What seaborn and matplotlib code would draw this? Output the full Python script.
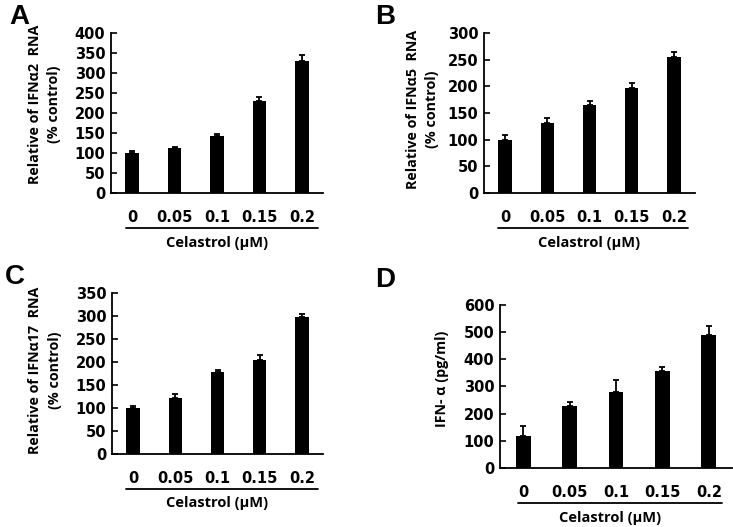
import matplotlib
matplotlib.use("Agg")
import matplotlib.pyplot as plt
import seaborn as sns
import numpy as np
import pandas as pd

sns.set_theme(style="white")
plt.rcParams['font.family'] = ['Open Sans', 'DejaVu Sans']

doses = ["0", "0.05", "0.1", "0.15", "0.2"]

ifna2_vals = [99, 112, 142, 231, 330]
ifna2_err = [6, 4, 5, 10, 14]

ifna5_vals = [99, 131, 165, 196, 255]
ifna5_err = [9, 9, 7, 11, 9]

ifna17_vals = [99, 121, 177, 203, 298]
ifna17_err = [5, 9, 5, 11, 5]

ifn_pg_vals = [119, 229, 280, 358, 488]
ifn_pg_err = [34, 13, 44, 13, 34]

panels = [
    dict(letter="A", vals=ifna2_vals, err=ifna2_err, ymax=400, step=50,
         ylabel="Relative of IFNα2  RNA\n(% control)",
         rect=(111, 33, 323, 193), lab=(-0.314, 0.555),
         line=(0.071, 0.976, -0.219), xl=(0.5, -0.31), lpos=(19, 17)),
    dict(letter="B", vals=ifna5_vals, err=ifna5_err, ymax=300, step=50,
         ylabel="Relative of IFNα5  RNA\n(% control)",
         rect=(484, 33, 695, 193), lab=(-0.291, 0.525),
         line=(0.065, 0.967, -0.219), xl=(0.498, -0.31), lpos=(385, 17)),
    dict(letter="C", vals=ifna17_vals, err=ifna17_err, ymax=350, step=50,
         ylabel="Relative of IFNα17  RNA\n(% control)",
         rect=(112, 292.7, 323, 454), lab=(-0.318, 0.52),
         line=(0.065, 0.976, -0.217), xl=(0.5, -0.304), lpos=(15, 277)),
    dict(letter="D", vals=ifn_pg_vals, err=ifn_pg_err, ymax=600, step=100,
         ylabel="IFN- α (pg/ml)",
         rect=(500, 304.7, 732, 468), lab=(-0.251, 0.545),
         line=(0.078, 0.956, -0.216), xl=(0.474, -0.306), lpos=(385, 280)),
]

W, H = 733, 527
fig = plt.figure(figsize=(W / 100, H / 100), dpi=100)

label_family = ['Open Sans', 'DejaVu Sans']

for p in panels:
    l, t, r, b = p["rect"]
    ax = fig.add_axes([l / W, 1 - b / H, (r - l) / W, (b - t) / H])
    df = pd.DataFrame({"dose": doses, "val": p["vals"]})
    sns.barplot(data=df, x="dose", y="val", order=doses, color="black",
                width=0.32, errorbar=None, ax=ax, saturation=1,
                edgecolor="black", linewidth=0)
    xs = np.arange(len(doses))
    ax.errorbar(xs, p["vals"], yerr=[np.zeros(len(doses)), p["err"]],
                fmt="none", ecolor="black", elinewidth=1.3, capsize=2.2,
                capthick=1.3)
    ax.set_xlim(-0.5, 4.5)
    ax.set_ylim(0, p["ymax"])
    ax.set_yticks(np.arange(0, p["ymax"] + 1, p["step"]))
    for s in ["top", "right"]:
        ax.spines[s].set_visible(False)
    for s in ["left", "bottom"]:
        ax.spines[s].set_color("black")
        ax.spines[s].set_linewidth(1.3)
    ax.set_xticks(xs)
    ax.set_xticks(np.arange(0.5, 5, 1), minor=True)
    ax.tick_params(axis="x", which="major", length=0, pad=12.5)
    ax.tick_params(axis="x", which="minor", direction="in", length=4,
                   width=1.2, color="black")
    ax.tick_params(axis="y", direction="in", length=4, width=1.2,
                   color="black", pad=4, left=True)
    for lbl in ax.get_xticklabels() + ax.get_yticklabels():
        lbl.set_fontfamily('DejaVu Sans')
        lbl.set_fontweight('bold')
        lbl.set_fontsize(10.5)
        lbl.set_color('black')
    ax.set_xlabel("")
    ax.set_ylabel(p["ylabel"], fontsize=10.3, fontweight="bold", color="black",
                  linespacing=1.5, family=label_family)
    ax.yaxis.label.set_va("center")
    ax.yaxis.label.set_ha("center")
    ax.yaxis.set_label_coords(*p["lab"])
    x0, x1, yy = p["line"]
    ax.plot([x0, x1], [yy, yy], transform=ax.transAxes, color="black",
            lw=1.3, clip_on=False)
    ax.text(p["xl"][0], p["xl"][1], "Celastrol (μM)", transform=ax.transAxes,
            ha="center", va="center", fontsize=10.5, fontweight="bold",
            color="black", family=label_family)
    fig.text(p["lpos"][0] / W, 1 - p["lpos"][1] / H, p["letter"],
             ha="center", va="center", fontsize=20, fontweight="bold",
             family='Liberation Sans', color="black")

fig.savefig("out.png", dpi=100)
